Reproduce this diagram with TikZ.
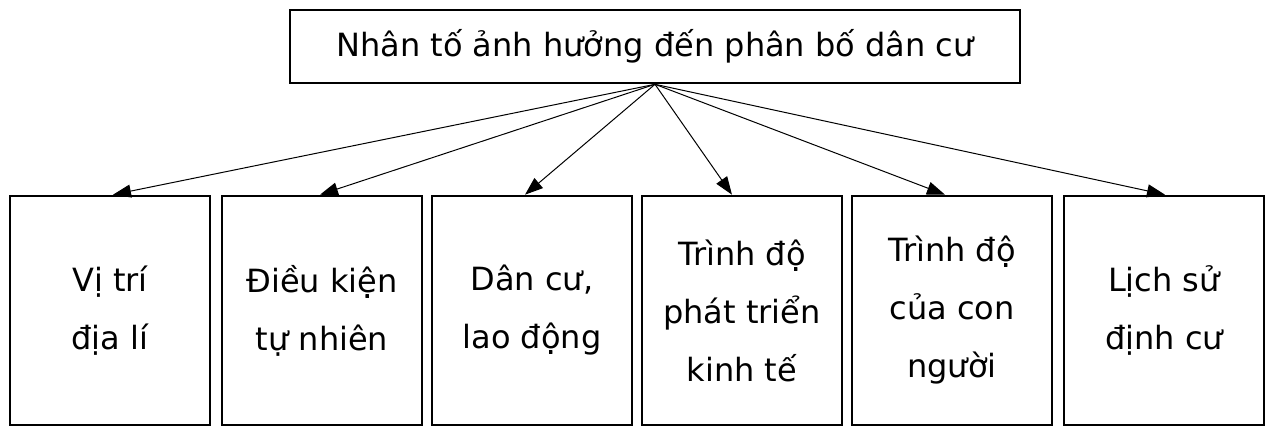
\documentclass[tikz,border=0pt]{standalone}
\usepackage{fontspec}
\setmainfont{DejaVu Sans}
\usetikzlibrary{arrows.meta}
\begin{document}
\begin{tikzpicture}[x=0.5pt,y=0.5pt,
  factorbox/.style={draw,line width=1.3pt,minimum width=100pt,minimum height=114.5pt,
    align=center,inner sep=0pt,font=\fontsize{16}{29}\selectfont},
  link/.style={-{Triangle[length=9pt,width=6.5pt]},line width=0.5pt}]
\useasboundingbox (0,0) rectangle (1266,428);
\node[draw,line width=1.3pt,minimum width=365pt,minimum height=36.5pt,
  font=\fontsize{16}{20}\selectfont] (top) at (655,381.5) {Nhân tố ảnh hưởng đến phân bố dân cư};
\node[factorbox] (b1) at (110,117.5) {Vị trí\\địa lí};
\node[factorbox] (b2) at (322,117.5) {Điều kiện\\tự nhiên};
\node[factorbox] (b3) at (532,117.5) {Dân cư,\\lao động};
\node[factorbox] (b4) at (742,117.5) {Trình độ\\phát triển\\kinh tế};
\node[factorbox] (b5) at (952,117.5) {Trình độ\\của con\\người};
\node[factorbox] (b6) at (1164,117.5) {Lịch sử\\định cư};
\foreach \b/\s in {b1/1.5,b2/-1,b3/-3.5,b4/-5,b5/-3.5,b6/0.5}
  \draw[link] (top.south) -- ([xshift=\s pt]\b.north);
\end{tikzpicture}
\end{document}
